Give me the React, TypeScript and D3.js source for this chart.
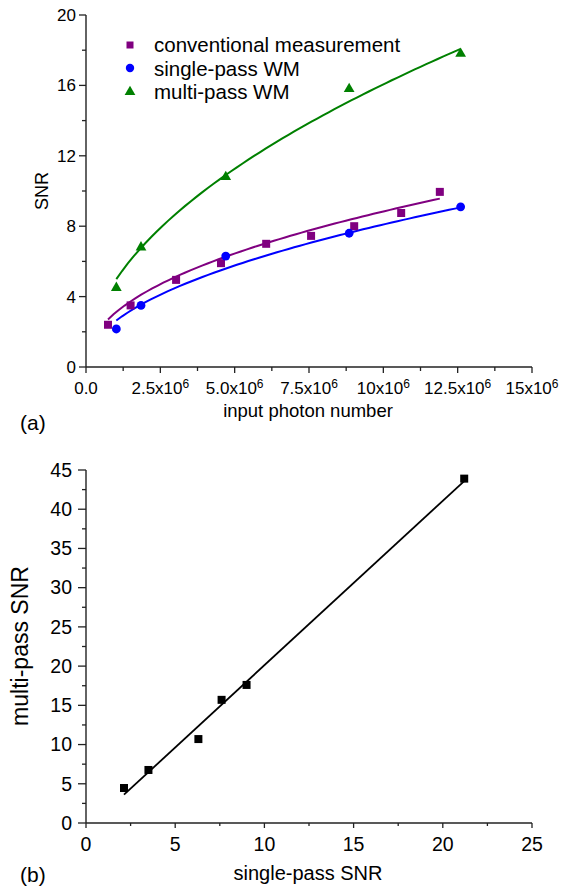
import React from 'react';
import * as d3 from 'd3';

// (a) input photon number (in units of 10^6) against SNR
const convPhotons = [0.74, 1.5, 3.03, 4.54, 6.06, 7.57, 9.02, 10.6, 11.9];
const convSnr = [2.4, 3.5, 4.95, 5.9, 7.0, 7.45, 8.0, 8.75, 9.95];
const wmPhotons = [1.02, 1.85, 4.7, 8.85, 12.6];
const singleSnr = [2.16, 3.5, 6.3, 7.6, 9.1];
const multiSnr = [4.5, 6.8, 10.8, 15.8, 17.8];

// allometric fits y = a * x^b
const convFit = [3.1, 0.455];
const singleFit = [2.62, 0.49];
const multiFit = [4.94, 0.512];

const photonTicks = [0, 2.5, 5, 7.5, 10, 12.5, 15];
const photonTickLabels = ['0.0', '2.5x10', '5.0x10', '7.5x10', '10x10', '12.5x10', '15x10'];
const snrTicks = [0, 4, 8, 12, 16, 20];

const legendLabels = ['conventional measurement', 'single-pass WM', 'multi-pass WM'];

// (b) single-pass SNR against multi-pass SNR
const singlePassSnr = [2.13, 3.5, 6.3, 7.6, 9.0, 21.2];
const multiPassSnr = [4.46, 6.76, 10.7, 15.7, 17.6, 43.9];
const singleTicks = [0, 5, 10, 15, 20, 25];
const multiTicks = [0, 5, 10, 15, 20, 25, 30, 35, 40, 45];

const FONT = '"Liberation Sans", Arial, sans-serif';
const AXIS = '#222';
const PURPLE = '#800080';
const BLUE = '#0000ff';
const GREEN = '#008000';

const xA = d3.scaleLinear().domain([0, 15]).range([86, 532]);
const yA = d3.scaleLinear().domain([0, 20]).range([367, 15]);
const xB = d3.scaleLinear().domain([0, 25]).range([86, 532]);
const yB = d3.scaleLinear().domain([0, 45]).range([823, 470]);

const mids = (ticks: number[]) => ticks.slice(1).map((t, i) => (t + ticks[i]) / 2);

function fitCurve(xs: number[], p: number[]) {
  const lo = d3.min(xs)!, hi = d3.max(xs)!;
  const pts = d3.range(0, 61).map(i => lo + (hi - lo) * i / 60);
  return d3.line<number>().x(d => xA(d)).y(d => yA(p[0] * Math.pow(d, p[1])))(pts)!;
}

// least squares straight line through (b)
function linFit(xs: number[], ys: number[]) {
  const mx = d3.mean(xs)!, my = d3.mean(ys)!;
  const sxy = d3.sum(xs, (x, i) => (x - mx) * (ys[i] - my));
  const sxx = d3.sum(xs, x => (x - mx) * (x - mx));
  const k = sxy / sxx;
  return [k, my - k * mx];
}

const tri = d3.symbol().type(d3.symbolTriangle).size(50)()!;

export default function App() {
  const [k, b0] = linFit(singlePassSnr, multiPassSnr);
  const bLo = d3.min(singlePassSnr)!, bHi = d3.max(singlePassSnr)!;

  return (
    <svg width={561} height={890} style={{ position: 'absolute', left: 0, top: 0, background: '#fff' }}
      fontFamily={FONT}>
      {/* ---------- panel (a) ---------- */}
      <g>
        <line x1={86} x2={86} y1={yA(20)} y2={yA(0)} stroke={AXIS} strokeWidth={1.4} />
        <line x1={86} x2={532} y1={367} y2={367} stroke={AXIS} strokeWidth={1.4} />
        {snrTicks.map(t => (
          <g key={'ya' + t}>
            <line x1={79} x2={86} y1={yA(t)} y2={yA(t)} stroke={AXIS} strokeWidth={1.3} />
            <text x={76} y={yA(t)} dy="0.35em" textAnchor="end" fontSize={17}>{t}</text>
          </g>
        ))}
        {mids(snrTicks).map(t => (
          <line key={'yam' + t} x1={82} x2={86} y1={yA(t)} y2={yA(t)} stroke={AXIS} strokeWidth={1.3} />
        ))}
        {photonTicks.map((t, i) => (
          <g key={'xa' + t}>
            <line x1={xA(t)} x2={xA(t)} y1={367} y2={373} stroke={AXIS} strokeWidth={1.3} />
            <text x={xA(t)} y={394} textAnchor="middle" fontSize={17}>
              {photonTickLabels[i]}
              {i > 0 && <tspan fontSize={12} dy={-6}>6</tspan>}
            </text>
          </g>
        ))}
        {mids(photonTicks).map(t => (
          <line key={'xam' + t} x1={xA(t)} x2={xA(t)} y1={367} y2={371} stroke={AXIS} strokeWidth={1.3} />
        ))}
        <text transform="translate(48,191) rotate(-90)" textAnchor="middle" fontSize={18}>SNR</text>
        <text x={308} y={417} textAnchor="middle" fontSize={18.5}>input photon number</text>
        <text x={20} y={430} fontSize={21}>(a)</text>

        <path d={fitCurve(convPhotons, convFit)} fill="none" stroke={PURPLE} strokeWidth={2} />
        <path d={fitCurve(wmPhotons, singleFit)} fill="none" stroke={BLUE} strokeWidth={2} />
        <path d={fitCurve(wmPhotons, multiFit)} fill="none" stroke={GREEN} strokeWidth={2} />

        {convPhotons.map((x, i) => (
          <rect key={'c' + i} x={xA(x) - 4} y={yA(convSnr[i]) - 4} width={8} height={8} fill={PURPLE} />
        ))}
        {wmPhotons.map((x, i) => (
          <circle key={'s' + i} cx={xA(x)} cy={yA(singleSnr[i])} r={4.4} fill={BLUE} />
        ))}
        {wmPhotons.map((x, i) => (
          <path key={'m' + i} d={tri} transform={`translate(${xA(x)},${yA(multiSnr[i])})`} fill={GREEN} />
        ))}

        {/* legend */}
        <rect x={126.5} y={41.5} width={7} height={7} fill={PURPLE} />
        <circle cx={130} cy={68} r={4.2} fill={BLUE} />
        <path d={tri} transform="translate(130,92)" fill={GREEN} />
        {legendLabels.map((l, i) => (
          <text key={l} x={154} y={52 + i * 23.5} fontSize={20.5}>{l}</text>
        ))}
      </g>

      {/* ---------- panel (b) ---------- */}
      <g>
        <line x1={86} x2={86} y1={yB(45)} y2={yB(0)} stroke={AXIS} strokeWidth={1.4} />
        <line x1={86} x2={532} y1={823} y2={823} stroke={AXIS} strokeWidth={1.4} />
        {multiTicks.map(t => (
          <g key={'yb' + t}>
            <line x1={78} x2={86} y1={yB(t)} y2={yB(t)} stroke={AXIS} strokeWidth={1.3} />
            <text x={72} y={yB(t)} dy="0.35em" textAnchor="end" fontSize={19.5}>{t}</text>
          </g>
        ))}
        {mids(multiTicks).map(t => (
          <line key={'ybm' + t} x1={82} x2={86} y1={yB(t)} y2={yB(t)} stroke={AXIS} strokeWidth={1.3} />
        ))}
        {singleTicks.map(t => (
          <g key={'xb' + t}>
            <line x1={xB(t)} x2={xB(t)} y1={823} y2={828} stroke={AXIS} strokeWidth={1.3} />
            <text x={xB(t)} y={851} textAnchor="middle" fontSize={19.5}>{t}</text>
          </g>
        ))}
        {mids(singleTicks).map(t => (
          <line key={'xbm' + t} x1={xB(t)} x2={xB(t)} y1={823} y2={826} stroke={AXIS} strokeWidth={1.3} />
        ))}
        <text transform="translate(28,646) rotate(-90)" textAnchor="middle" fontSize={23}>multi-pass SNR</text>
        <text x={308} y={880} textAnchor="middle" fontSize={20}>single-pass SNR</text>
        <text x={20} y={882} fontSize={21}>(b)</text>

        <line x1={xB(bLo)} y1={yB(k * bLo + b0)} x2={xB(bHi)} y2={yB(k * bHi + b0)}
          stroke="#000" strokeWidth={1.8} />
        {singlePassSnr.map((x, i) => (
          <rect key={'b' + i} x={xB(x) - 4} y={yB(multiPassSnr[i]) - 4} width={8} height={8} fill="#000" />
        ))}
      </g>
    </svg>
  );
}
